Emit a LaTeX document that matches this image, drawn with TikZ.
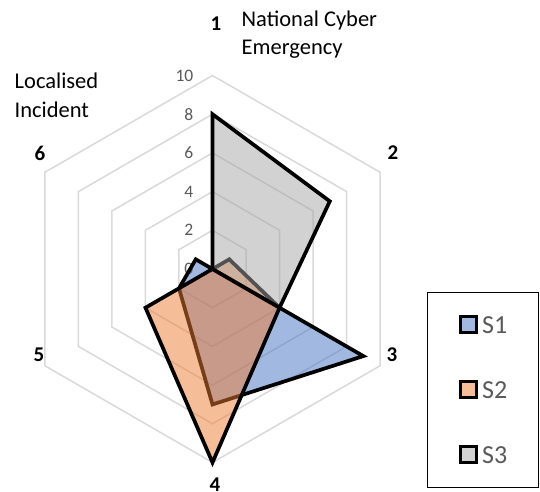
\documentclass[tikz,border=0pt]{standalone}
\usepackage{fontspec}
\setmainfont{Carlito}
\definecolor{sone}{HTML}{4472C4}
\definecolor{stwo}{HTML}{ED7D31}
\definecolor{sthree}{HTML}{A5A5A5}
\definecolor{gridc}{HTML}{D9D9D9}
\definecolor{tickc}{HTML}{595959}
\tikzset{
  gridline/.style={draw=gridc, line width=1.5pt},
  serie/.style={draw=black, line width=3.7pt, fill opacity=0.5, line join=miter},
  ticklab/.style={anchor=east, inner sep=0pt, text=tickc, font=\fontsize{17.5}{20}\selectfont},
  axnum/.style={inner sep=0pt, font=\fontsize{21}{24}\selectfont\bfseries},
  catlab/.style={anchor=base west, inner sep=0pt, font=\fontsize{22.5}{27}\selectfont},
  legsq/.style={draw=black, line width=3.2pt, fill opacity=0.5},
  legtxt/.style={anchor=base west, inner sep=0pt, text=tickc, font=\fontsize{26}{30}\selectfont}
}
\begin{document}
\begin{tikzpicture}[x=1pt,y=-1pt]
\useasboundingbox (0,0) rectangle (540,491);
\def\u{19.35}
\begin{scope}[shift={(212.5,269)},x=1pt,y=1pt]
  % grid rings
  \foreach \r in {2,4,6,8,10}{
    \draw[gridline] (90:{\r*\u}) -- (30:{\r*\u}) -- (-30:{\r*\u}) -- (-90:{\r*\u}) -- (-150:{\r*\u}) -- (150:{\r*\u}) -- cycle;
  }
  % tick labels
  \foreach \r in {0,2,4,6,8,10}{
    \node[ticklab] (t\r) at (-19,{\r*\u}) {\r};
  }
  % S1
  \fill[sone, fill opacity=0.5] (0,0) -- (-30:{9*\u}) -- (-90:{7*\u}) -- (-150:{2*\u}) -- (150:{1*\u}) -- cycle;
  \draw[serie, fill=none] (0,0) -- (-30:{9*\u}) -- (-90:{7*\u}) -- (-150:{2*\u}) -- (150:{1*\u}) -- cycle;
  % S2
  \fill[stwo, fill opacity=0.5] (0,0) -- (30:{1*\u}) -- (-30:{4*\u}) -- (-90:{10*\u}) -- (-150:{4*\u}) -- cycle;
  \draw[serie, fill=none] (0,0) -- (30:{1*\u}) -- (-30:{4*\u}) -- (-90:{10*\u}) -- (-150:{4*\u}) -- cycle;
  % S3
  \fill[sthree, fill opacity=0.5] (0,0) -- (90:{8*\u}) -- (30:{7*\u}) -- (-30:{4*\u}) -- cycle;
  \draw[serie, fill=none] (0,0) -- (90:{8*\u}) -- (30:{7*\u}) -- (-30:{4*\u}) -- cycle;
\end{scope}
% axis numbers
\node[axnum] (a1) at (216,23.5) {1};
\node[axnum] (a2) at (393,153) {2};
\node[axnum] (a3) at (392,355) {3};
\node[axnum] (a4) at (215,485) {4};
\node[axnum] (a5) at (39,355) {5};
\node[axnum] (a6) at (40,153) {6};
% category labels
\node[catlab] (c1a) at (241.5,26) {National Cyber};
\node[catlab] (c1b) at (241.5,54) {Emergency};
\node[catlab] (c6a) at (14.5,88) {Localised};
\node[catlab] (c6b) at (14.5,117.5) {Incident};
% legend
\node[draw=black, line width=1pt, minimum width=111pt, minimum height=195pt, anchor=north west, inner sep=0pt] (leg) at (427,292) {};
\draw[legsq, fill=sone] (460.5,316.5) rectangle (476.5,332.5);
\draw[legsq, fill=stwo] (460.5,381.5) rectangle (476.5,397.5);
\draw[legsq, fill=sthree] (460.5,446.5) rectangle (476.5,462.5);
\node[legtxt] (l1) at (482,333) {S1};
\node[legtxt] (l2) at (482,398) {S2};
\node[legtxt] (l3) at (482,463) {S3};
\end{tikzpicture}
\end{document}
